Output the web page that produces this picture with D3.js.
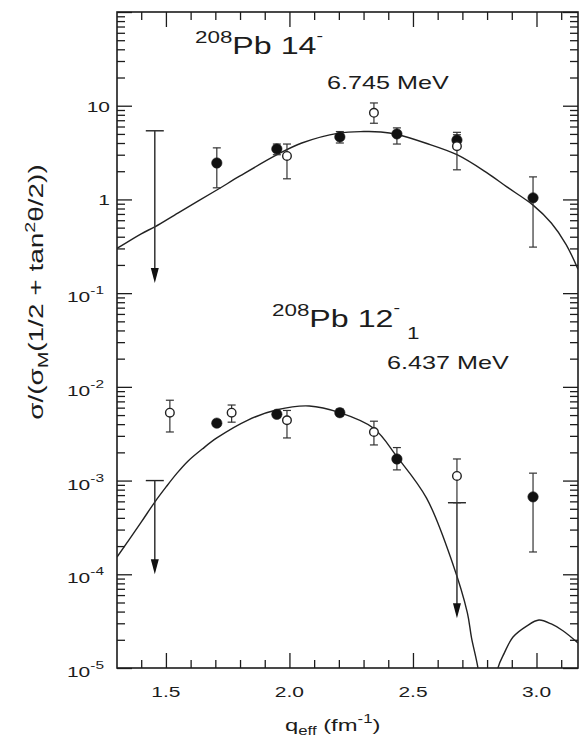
<!DOCTYPE html>
<html>
<head>
<meta charset="utf-8">
<script src="https://cdn.jsdelivr.net/npm/d3@7"></script>
<style>
  html, body { margin: 0; padding: 0; background: #fff; }
  svg { display: block; }
  text { font-family: "Liberation Sans", Arial, Helvetica, sans-serif; fill: #1c1c1c; }
</style>
</head>
<body>
<svg id="chart" width="580" height="741"></svg>
<script>
// ---- axis ranges and ticks ----
const qDomain = [1.302, 3.168];
const sigmaDomain = [1e-5, 1e2];
const xTickValues = [1.5, 2.0, 2.5, 3.0];
const xTickLabels = ["1.5", "2.0", "2.5", "3.0"];
const yTickValues = [1e-5, 1e-4, 1e-3, 1e-2, 1e-1, 1, 10];
const yTickBase = ["10", "10", "10", "10", "10", "1", "10"];
const yTickExp = ["-5", "-4", "-3", "-2", "-1", "", ""];

// ---- 208Pb 14-, 6.745 MeV ----
const q14Filled  = [1.706, 1.949, 2.204, 2.435, 2.678, 2.986];
const y14Filled  = [2.45, 3.46, 4.65, 5.0, 4.3, 1.04];
const lo14Filled = [1.33, 3.0, 4.0, 3.9, 3.8, 0.31];
const hi14Filled = [3.55, 3.9, 5.3, 5.8, 4.9, 1.74];

const q14Open  = [1.99, 2.342, 2.678];
const y14Open  = [2.91, 8.4, 3.7];
const lo14Open = [1.66, 6.5, 2.07];
const hi14Open = [3.9, 10.7, 5.2];

const q14Limit   = [1.455];
const top14Limit = [5.4];
const end14Limit = [0.128];

const q14Curve = [1.302, 1.40, 1.455, 1.55, 1.706, 1.80, 1.95, 2.05, 2.20, 2.30, 2.37, 2.44, 2.55, 2.678, 2.80, 2.88, 2.986, 3.06, 3.12, 3.168];
const y14Curve = [0.30, 0.43, 0.51, 0.72, 1.26, 1.78, 3.0, 4.0, 5.1, 5.3, 5.25, 4.9, 4.0, 3.0, 1.92, 1.36, 0.87, 0.56, 0.33, 0.18];

// ---- 208Pb 12-1, 6.437 MeV ----
const q12Filled  = [1.706, 1.949, 2.204, 2.435, 2.986];
const y12Filled  = [4.1e-3, 5.1e-3, 5.3e-3, 1.7e-3, 6.7e-4];
const lo12Filled = [3.8e-3, 4.7e-3, 4.9e-3, 1.3e-3, 1.73e-4];
const hi12Filled = [4.4e-3, 5.5e-3, 5.8e-3, 2.25e-3, 1.2e-3];

const q12Open  = [1.516, 1.766, 1.99, 2.342, 2.678];
const y12Open  = [5.3e-3, 5.3e-3, 4.4e-3, 3.3e-3, 1.12e-3];
const lo12Open = [3.3e-3, 4.2e-3, 2.85e-3, 2.4e-3, 5.8e-4];
const hi12Open = [7.2e-3, 6.4e-3, 5.6e-3, 4.3e-3, 1.7e-3];

const q12Limit   = [1.455, 2.678];
const top12Limit = [1.0e-3, 5.8e-4];
const end12Limit = [1.0e-4, 3.4e-5];

// calculated form factor: main lobe and second lobe beyond the zero
const q12Curve = [1.302, 1.40, 1.455, 1.50, 1.545, 1.59, 1.647, 1.706, 1.83, 1.95, 2.08, 2.204, 2.342, 2.435, 2.555, 2.66, 2.72, 2.737, 2.763, 2.78];
const y12Curve = [1.53e-4, 3.6e-4, 5.9e-4, 8.5e-4, 1.2e-3, 1.62e-3, 2.17e-3, 2.85e-3, 4.4e-3, 5.7e-3, 6.25e-3, 5.3e-3, 3.6e-3, 1.8e-3, 6.5e-4, 1.32e-4, 3.9e-5, 2.1e-5, 1.0e-5, 4e-6];
const q12Curve2 = [2.83, 2.844, 2.87, 2.905, 2.96, 3.01, 3.06, 3.107, 3.168];
const y12Curve2 = [4e-6, 1.0e-5, 1.45e-5, 2.14e-5, 2.8e-5, 3.25e-5, 2.95e-5, 2.5e-5, 1.85e-5];

// ---- layout ----
const plot = { left: 117, right: 578, top: 12, bottom: 668 };
const SX = 1.4;          // horizontal stretch of all lettering
const ink = "#1c1c1c";

const svg = d3.select("#chart");
const x = d3.scaleLinear().domain(qDomain).range([plot.left, plot.right]);
const y = d3.scaleLog().domain(sigmaDomain).range([plot.bottom, plot.top]);

svg.append("defs").append("clipPath").attr("id", "plotArea")
  .append("rect")
  .attr("x", plot.left).attr("y", plot.top)
  .attr("width", plot.right - plot.left).attr("height", plot.bottom - plot.top);

// ---- axes: ticks on all four sides, pointing inward ----
const yMinor = y.ticks().filter(v => !yTickValues.includes(v) && v < sigmaDomain[1]);
const yMajor = yTickValues.concat([1e2]);
const xMinor = x.ticks(20).filter(v => !xTickValues.some(t => Math.abs(t - v) < 1e-6));

function tickGroup(axis, tx, ty) {
  const g = svg.append("g").attr("transform", `translate(${tx},${ty})`).call(axis);
  g.select(".domain").remove();
  g.selectAll(".tick line").attr("stroke", ink).attr("stroke-width", 1.3);
  g.selectAll(".tick text").remove();
  return g;
}
const MAJ = 15, MIN = 8;
tickGroup(d3.axisLeft(y).tickValues(yMinor).tickSize(-MIN).tickFormat(""), plot.left, 0);
tickGroup(d3.axisLeft(y).tickValues(yMajor).tickSize(-MAJ).tickFormat(""), plot.left, 0);
tickGroup(d3.axisRight(y).tickValues(yMinor).tickSize(-MIN).tickFormat(""), plot.right, 0);
tickGroup(d3.axisRight(y).tickValues(yMajor).tickSize(-MAJ).tickFormat(""), plot.right, 0);
tickGroup(d3.axisBottom(x).tickValues(xMinor).tickSize(-MIN).tickFormat(""), 0, plot.bottom);
tickGroup(d3.axisBottom(x).tickValues(xTickValues).tickSize(-MAJ).tickFormat(""), 0, plot.bottom);
tickGroup(d3.axisTop(x).tickValues(xMinor).tickSize(-MIN).tickFormat(""), 0, plot.top);
tickGroup(d3.axisTop(x).tickValues(xTickValues).tickSize(-MAJ).tickFormat(""), 0, plot.top);

svg.append("rect")
  .attr("x", plot.left).attr("y", plot.top)
  .attr("width", plot.right - plot.left).attr("height", plot.bottom - plot.top)
  .attr("fill", "none").attr("stroke", ink).attr("stroke-width", 1.6);

// ---- stretched text helper ----
function textAt(px, py, anchor, size, rotate) {
  const rot = rotate ? ` rotate(${rotate})` : "";
  return svg.append("g")
    .attr("transform", `translate(${px},${py})${rot} scale(${SX},1)`)
    .append("text")
    .attr("text-anchor", anchor)
    .style("font-size", size + "px");
}

// tick labels
xTickValues.forEach((v, i) => {
  textAt(x(v), 697, "middle", 15).text(xTickLabels[i]);
});
yTickValues.forEach((v, i) => {
  if (yTickExp[i]) {
    const t = textAt(plot.left - 13, y(v) + 9, "end", 15);
    t.append("tspan").text(yTickBase[i]);
    t.append("tspan").attr("dy", -8).style("font-size", "11px").text(yTickExp[i]);
  } else {
    textAt(plot.left - 7, y(v) + 6, "end", 15).text(yTickBase[i]);
  }
});

// axis titles
{
  const t = textAt(285, 731, "start", 17);
  t.append("tspan").text("q");
  t.append("tspan").attr("dy", 4).style("font-size", "12px").text("eff");
  t.append("tspan").attr("dy", -4).text(" (fm");
  t.append("tspan").attr("dy", -8).style("font-size", "12px").text("-1");
  t.append("tspan").attr("dy", 8).text(")");
}
{
  const t = textAt(43, 292, "middle", 20, -90);
  t.append("tspan").text("σ/(σ");
  t.append("tspan").attr("dy", 5).style("font-size", "14px").text("M");
  t.append("tspan").attr("dy", -5).text("(1/2 + tan");
  t.append("tspan").attr("dy", -8).style("font-size", "14px").text("2");
  t.append("tspan").attr("dy", 8).text("θ/2))");
}

// state labels
{
  const t = textAt(195, 54, "start", 23);
  t.append("tspan").attr("dy", -11).style("font-size", "16px").text("208");
  t.append("tspan").attr("dy", 11).text("Pb 14");
  t.append("tspan").attr("dy", -13).style("font-size", "14px").text("-");
  textAt(327, 89, "start", 18).text("6.745 MeV");
}
{
  const t = textAt(272, 327, "start", 23);
  t.append("tspan").attr("dy", -11).style("font-size", "16px").text("208");
  t.append("tspan").attr("dy", 11).text("Pb 12");
  t.append("tspan").attr("dy", -14).style("font-size", "14px").text("-");
  t.append("tspan").attr("dy", 26).attr("dx", 5).style("font-size", "16px").text("1");
  textAt(387, 369, "start", 18).text("6.437 MeV");
}

// ---- theory curves ----
const plotG = svg.append("g").attr("clip-path", "url(#plotArea)");
const line = d3.line().x(d => x(d[0])).y(d => y(d[1])).curve(d3.curveCatmullRom.alpha(0.5));
function drawCurve(qs, vs) {
  plotG.append("path")
    .datum(d3.zip(qs, vs))
    .attr("d", line)
    .attr("fill", "none")
    .attr("stroke", "#222")
    .attr("stroke-width", 1.4);
}
drawCurve(q14Curve, y14Curve);
drawCurve(q12Curve, y12Curve);
drawCurve(q12Curve2, y12Curve2);

// ---- data ----
function errorBars(qs, lo, hi) {
  const d = d3.zip(qs, lo, hi);
  plotG.selectAll(null).data(d).enter().append("line")
    .attr("x1", v => x(v[0])).attr("x2", v => x(v[0]))
    .attr("y1", v => y(v[1])).attr("y2", v => y(v[2]))
    .attr("stroke", "#333").attr("stroke-width", 1.2);
  [1, 2].forEach(k => {
    plotG.selectAll(null).data(d).enter().append("line")
      .attr("x1", v => x(v[0]) - 4).attr("x2", v => x(v[0]) + 4)
      .attr("y1", v => y(v[k])).attr("y2", v => y(v[k]))
      .attr("stroke", "#333").attr("stroke-width", 1.2);
  });
}
function limits(qs, top, end) {
  const d = d3.zip(qs, top, end);
  plotG.selectAll(null).data(d).enter().append("line")
    .attr("x1", v => x(v[0]) - 9).attr("x2", v => x(v[0]) + 9)
    .attr("y1", v => y(v[1])).attr("y2", v => y(v[1]))
    .attr("stroke", "#222").attr("stroke-width", 1.4);
  plotG.selectAll(null).data(d).enter().append("line")
    .attr("x1", v => x(v[0])).attr("x2", v => x(v[0]))
    .attr("y1", v => y(v[1])).attr("y2", v => y(v[2]) - 10)
    .attr("stroke", "#333").attr("stroke-width", 1.5);
  plotG.selectAll(null).data(d).enter().append("path")
    .attr("d", v => {
      const cx = x(v[0]), ty = y(v[2]);
      return `M${cx - 4},${ty - 15}L${cx + 4},${ty - 15}L${cx},${ty}Z`;
    })
    .attr("fill", "#111");
}
function points(qs, vs, filled) {
  plotG.selectAll(null).data(d3.zip(qs, vs)).enter().append("circle")
    .attr("cx", v => x(v[0])).attr("cy", v => y(v[1]))
    .attr("r", filled ? 5.2 : 4.3)
    .attr("fill", filled ? "#111" : "#fff")
    .attr("stroke", "#222").attr("stroke-width", filled ? 0.6 : 1.4);
}

limits(q14Limit, top14Limit, end14Limit);
limits(q12Limit, top12Limit, end12Limit);
errorBars(q14Filled, lo14Filled, hi14Filled);
errorBars(q14Open, lo14Open, hi14Open);
errorBars(q12Filled, lo12Filled, hi12Filled);
errorBars(q12Open, lo12Open, hi12Open);
points(q14Filled, y14Filled, true);
points(q12Filled, y12Filled, true);
points(q14Open, y14Open, false);
points(q12Open, y12Open, false);
</script>
</body>
</html>
